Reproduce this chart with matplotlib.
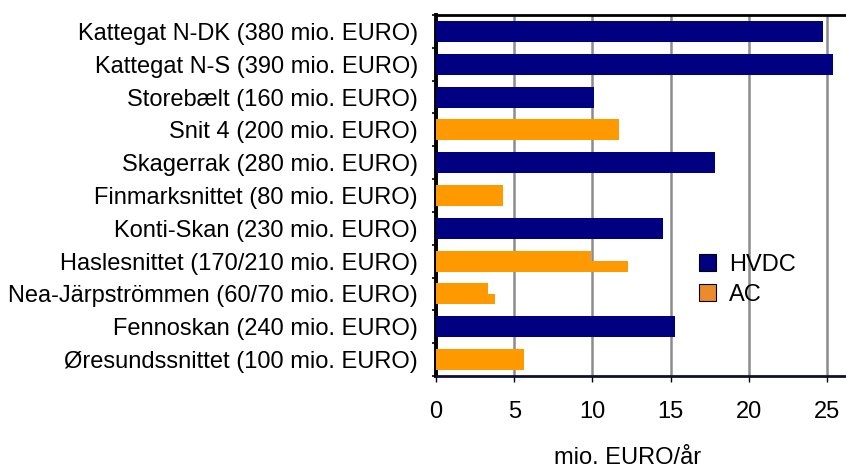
import matplotlib.pyplot as plt
from matplotlib.patches import Patch
from matplotlib.ticker import FixedLocator

plt.rcParams['font.family'] = ['Liberation Sans', 'DejaVu Sans']

# Transmission sections, top to bottom
sections = ["Kattegat N-DK (380 mio. EURO)", "Kattegat N-S (390 mio. EURO)",
            "Storebælt (160 mio. EURO)", "Snit 4 (200 mio. EURO)",
            "Skagerrak (280 mio. EURO)", "Finmarksnittet (80 mio. EURO)",
            "Konti-Skan (230 mio. EURO)", "Haslesnittet (170/210 mio. EURO)",
            "Nea-Järpströmmen (60/70 mio. EURO)", "Fennoskan (240 mio. EURO)",
            "Øresundssnittet (100 mio. EURO)"]
link_type = ["HVDC", "HVDC", "HVDC", "AC", "HVDC", "AC", "HVDC", "AC", "AC", "HVDC", "AC"]
# annual cost (mio. EURO/år); sections with two investment options have a second value
cost_low = [24.7, 25.4, 10.1, 11.7, 17.8, 4.3, 14.5, 9.9, 3.3, 15.3, 5.6]
cost_high = [None, None, None, None, None, None, None, 12.3, 3.8, None, None]

colors = {"HVDC": "#000080", "AC": "#FF9900"}
fs = 17

fig = plt.figure(figsize=(8.46, 4.68), dpi=100)
ax = fig.add_axes([436 / 846, 1 - 376 / 468, 1 - 436 / 846, (376 - 15) / 468])

h = 0.64
for i, name in enumerate(sections):
    c = colors[link_type[i]]
    if cost_high[i] is None:
        ax.barh(i, cost_low[i], height=h, color=c, zorder=3)
    else:
        # two options: lower cost on the upper half, higher cost on the lower half
        ax.barh(i - h / 4, cost_low[i], height=h / 2, color=c, zorder=3)
        ax.barh(i + h / 4, cost_high[i], height=h / 2, color=c, zorder=3)

ax.set_ylim(len(sections) - 0.5, -0.5)
ax.set_xlim(0, 26.2)
ax.set_yticks(range(len(sections)))
ax.set_yticklabels(sections, fontsize=fs)
ax.yaxis.set_minor_locator(FixedLocator([i + 0.5 for i in range(-1, len(sections))]))
ax.tick_params(axis='y', which='major', length=0, pad=13)
ax.tick_params(axis='y', which='minor', length=3, width=1.2, direction='out')
ax.set_xticks([0, 5, 10, 15, 20, 25])
ax.tick_params(axis='x', length=4, width=1, direction='out', pad=14, labelsize=fs)
ax.xaxis.grid(True, color='#8c8c8c', linewidth=1.8, zorder=0)

ax.spines['right'].set_visible(False)
ax.spines['left'].set_linewidth(2.8)
ax.spines['top'].set_linewidth(2)
ax.spines['bottom'].set_linewidth(2)
ax.spines['bottom'].set_color('#101030')

ax.set_xlabel("mio. EURO/år", fontsize=fs)
ax.xaxis.set_label_coords(0.468, -0.196)

handles = [Patch(facecolor=colors["HVDC"], edgecolor='black', linewidth=0.8, label="HVDC"),
           Patch(facecolor="#EC8B2C", edgecolor='black', linewidth=0.8, label="AC")]
fig.legend(handles=handles, loc='center left', bbox_to_anchor=(687 / 846, 1 - 280 / 468),
           frameon=False, fontsize=fs, handlelength=0.72, handleheight=0.72,
           handletextpad=0.55, labelspacing=0.35, borderpad=0)

fig.savefig("out.png", dpi=100)
